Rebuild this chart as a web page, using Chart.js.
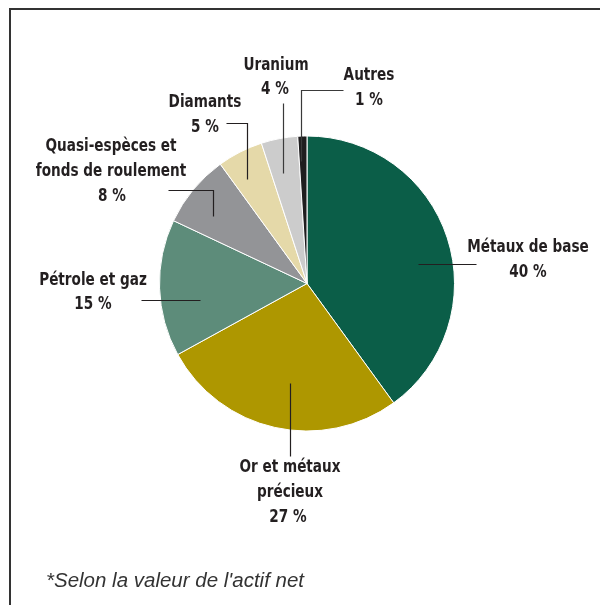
<!DOCTYPE html>
<html>
<head>
<meta charset="utf-8">
<script src="https://cdn.jsdelivr.net/npm/chart.js@4.4.0/dist/chart.umd.min.js"></script>
<style>
  html, body { margin: 0; padding: 0; background: #fff; }
  #wrap { position: relative; width: 600px; height: 605px; }
</style>
</head>
<body>
<div id="wrap"><canvas id="chart" width="600" height="605"></canvas></div>
<script>
const categories = ["Métaux de base", "Or et métaux précieux", "Pétrole et gaz",
  "Quasi-espèces et fonds de roulement", "Diamants", "Uranium", "Autres"]
const shares = [40, 27, 15, 8, 5, 4, 1]
const colors = ["#0b5e48", "#ae9700", "#5d8c7a", "#939497", "#e5d9a9", "#cccccc", "#1f1d1e"]
// label text lines, per slice
const labelLines = [
  ["Métaux de base"],
  ["Or et métaux", "précieux"],
  ["Pétrole et gaz"],
  ["Quasi-espèces et", "fonds de roulement"],
  ["Diamants"],
  ["Uranium"],
  ["Autres"]
]
const footnote = "*Selon la valeur de l'actif net"

// label placement relative to pie centre (x, y of first line centre, leader path)
const labelLayout = [
  { x: 221, y: -36, pct: { x: 221, y: -11 }, path: [[111, -20], [169, -20]] },
  { x: -17, y: 184, pct: { x: -19, y: 234 }, path: [[-17, 99], [-17, 172]] },
  { x: -214, y: -3, pct: { x: -214, y: 21 }, path: [[-166, 16], [-107, 16]] },
  { x: -196, y: -137, pct: { x: -195, y: -87 }, path: [[-139, -94], [-94, -94], [-94, -68]] },
  { x: -102, y: -181, pct: { x: -102, y: -156 }, path: [[-81, -161], [-60, -161], [-60, -105]] },
  { x: -31, y: -218, pct: { x: -32, y: -194 }, path: [[-24, -181], [-24, -111]] },
  { x: 62, y: -208, pct: { x: 62, y: -183 }, path: [[36, -194], [-6, -194], [-6, -123]] }
]

const FONT = "bold 18px 'Liberation Sans Narrow', 'DejaVu Sans Condensed', 'Roboto Condensed', sans-serif"
const SQUEEZE = 0.84

function narrowText(ctx, text, x, y) {
  ctx.save()
  ctx.translate(x, y)
  ctx.scale(SQUEEZE, 1)
  ctx.fillText(text, 0, 0)
  ctx.restore()
}

const annotate = {
  id: "annotate",
  afterDraw(chart) {
    const ctx = chart.ctx
    const arcs = chart.getDatasetMeta(0).data
    const cx = arcs[0].x, cy = arcs[0].y
    ctx.save()

    // frame
    ctx.strokeStyle = "#333"
    ctx.lineWidth = 2
    ctx.beginPath()
    ctx.moveTo(10, 605)
    ctx.lineTo(10, 9)
    ctx.lineTo(600, 9)
    ctx.stroke()

    // leaders
    ctx.lineWidth = 1.2
    labelLayout.forEach((l, i) => {
      ctx.strokeStyle = i === 5 || i === 6 ? "#3a3a3a" : "#231f20"
      ctx.beginPath()
      l.path.forEach((p, j) => {
        const px = Math.round(cx + p[0]) + 0.5, py = Math.round(cy + p[1]) + 0.5
        j === 0 ? ctx.moveTo(px, py) : ctx.lineTo(px, py)
      })
      ctx.stroke()
    })

    // labels
    ctx.fillStyle = "#231f20"
    ctx.font = FONT
    ctx.textAlign = "center"
    ctx.textBaseline = "middle"
    labelLayout.forEach((l, i) => {
      labelLines[i].forEach((t, j) => narrowText(ctx, t, cx + l.x, cy + l.y + j * 25))
      narrowText(ctx, shares[i] + " %", cx + l.pct.x, cy + l.pct.y)
    })

    // footnote
    ctx.fillStyle = "#333"
    ctx.font = "italic 20.5px 'Liberation Sans', Arial, sans-serif"
    ctx.textAlign = "left"
    ctx.fillText(footnote, 46, 581)
    ctx.restore()
  }
}

new Chart(document.getElementById("chart"), {
  type: "pie",
  data: {
    labels: categories,
    datasets: [{
      data: shares,
      backgroundColor: colors,
      borderColor: "#ffffff",
      borderWidth: 1
    }]
  },
  options: {
    responsive: false,
    animation: false,
    layout: { padding: { left: 159, right: 145, top: 135, bottom: 173 } },
    plugins: {
      legend: { display: false },
      tooltip: { enabled: false }
    }
  },
  plugins: [annotate]
})
</script>
</body>
</html>
